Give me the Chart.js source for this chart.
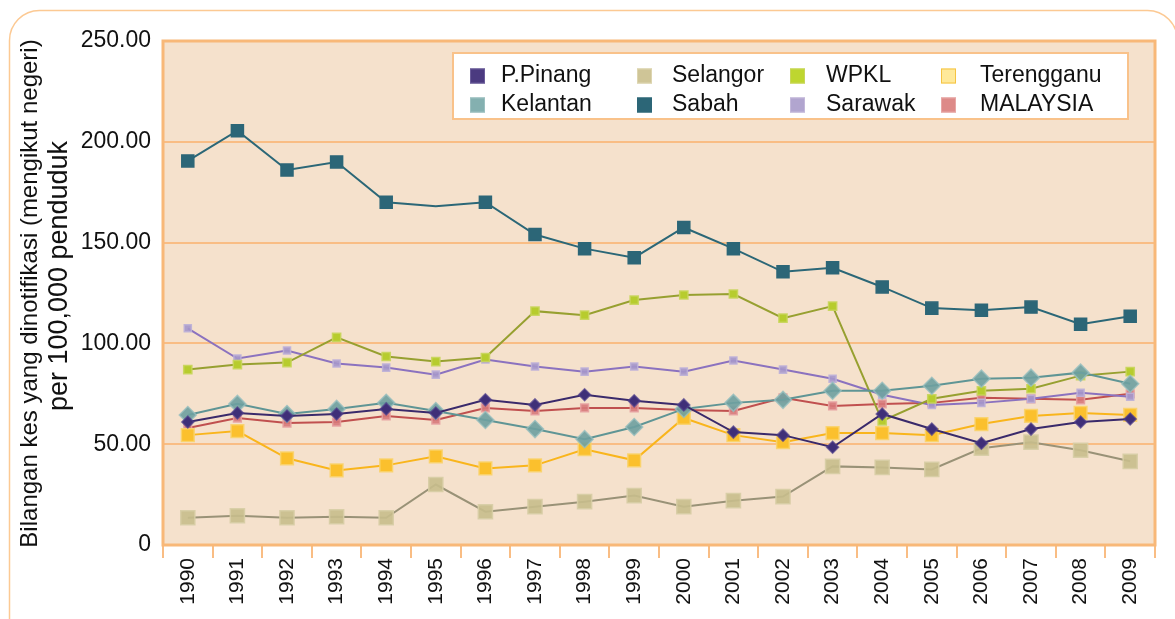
<!DOCTYPE html>
<html lang="ms">
<head>
<meta charset="UTF-8">
<title>Kes dinotifikasi mengikut negeri</title>
<script src="https://cdn.jsdelivr.net/npm/chart.js@4.4.1/dist/chart.umd.min.js"></script>
<style>
    body{margin:0;background:#fff;}
    #board{width:1175px;height:619px;}
</style>
</head>
<body>
<div id="board">
    <canvas id="chart1" width="1175" height="619"></canvas>
</div>

<script>
    const years = ['1990','1991','1992','1993','1994','1995','1996','1997','1998','1999',
                   '2000','2001','2002','2003','2004','2005','2006','2007','2008','2009'];

    const pPinang    = [61, 65.5, 64, 65, 67.5, 65.5, 72, 69.5, 74.5, 71.5, 69.5, 56, 54.5, 48.5, 65, 57.5, 50.5, 57.5, 61, 62.5];
    const kelantan   = [64.5, 70, 65, 67.5, 70.5, 66.5, 62, 57.5, 52.5, 58.5, 67.5, 70.5, 72, 76.5, 76.5, 79, 82.5, 83, 85.5, 80];
    const selangor   = [13.5, 14.5, 13.5, 14, 13.5, 30, 16.5, 19, 21.5, 24.5, 19, 22, 24, 39, 38.5, 37.5, 48, 51, 47, 41.5];
    const sabah      = [190.5, 205.5, 186, 190, 170, 168, 170, 154, 147, 142.5, 157.5, 147, 135.5, 137.5, 128, 117.5, 116.5, 118, 109.5, 113.5];
    const wpkl       = [87, 89.5, 90.5, 103, 93.5, 91, 93, 116, 114, 121.5, 124, 124.5, 112.5, 118.5, 61.5, 72.5, 76.5, 77.5, 84, 86];
    const sarawak    = [107.5, 92.5, 96.5, 90, 88, 84.5, 92, 88.5, 86, 88.5, 86, 91.5, 87, 82.5, 74.5, 69.5, 70.5, 72.5, 75.5, 73.5];
    const terengganu = [54.5, 56.5, 43, 37, 39.5, 44, 38, 39.5, 47.5, 42, 63, 54.5, 51, 55.5, 55.5, 54.5, 60, 64, 65.5, 64.5];
    const malaysia   = [58, 63, 60.5, 61, 64, 62, 68, 66.5, 68, 68, 67, 66.5, 73, 69, 70, 70.5, 73, 72.5, 72, 75];

    const yTicks = [0, 50, 100, 150, 200, 250];
    const yTitle = ['Bilangan kes yang dinotifikasi (mengikut negeri)', 'per 100,000 penduduk'];

    const ORANGE = '#f9bd84';
    const FONT = '"Liberation Sans", Arial, sans-serif';

    function series(label, data, line, fill, edge, style, r, swatch, swatchEdge){
        return {
            label, data,
            borderColor: line, borderWidth: 2,
            pointStyle: style, pointRadius: r, pointHoverRadius: r,
            pointBackgroundColor: fill, pointBorderColor: edge, pointBorderWidth: 1.5,
            fill: false, tension: 0,
            swatch: swatch, swatchEdge: swatchEdge
        };
    }

    // sabah 1995 has no marker in the original
    const sabahR = sabah.map((v, i) => i === 5 ? 0 : 8.5);

    // order: column by column of the legend (top row, bottom row)
    const datasets = [
        series('P.Pinang',   pPinang,    '#3a2a6b', '#3f2f78', 'rgba(80,64,140,0.7)',   'rectRot', 6,   '#4b3a80', '#6b5c9a'),
        series('Kelantan',   kelantan,   '#5f9595', 'rgba(110,160,160,0.9)', 'rgba(150,190,190,0.8)', 'rectRot', 8.5, '#84b0b0', '#9cc0c0'),
        series('Selangor',   selangor,   '#999277', 'rgba(200,190,140,0.9)', 'rgba(215,205,165,0.9)', 'rect', 10, '#cfc597', '#ddd5b0'),
        series('Sabah',      sabah,      '#2b6777', '#2c6677', '#2c6677',               'rect', sabahR, '#2c6677', '#2c6677'),
        series('WPKL',       wpkl,       '#97a030', '#b7cc2e', 'rgba(200,213,90,0.9)',   'rect', 5.8, '#bed62f', '#c8d55a'),
        series('Sarawak',    sarawak,    '#8b72bf', 'rgba(165,151,203,0.9)', 'rgba(189,176,216,0.9)', 'rect', 5, '#b1a5cf', '#c3b8da'),
        series('Terengganu', terengganu, '#f9b51c', '#fbc02d', 'rgba(249,211,107,0.9)',  'rect', 9, '#ffe99a', '#f5c342'),
        series('MALAYSIA',   malaysia,   '#c0504f', 'rgba(215,121,122,0.9)', 'rgba(229,160,160,0.9)', 'rect', 5.5, '#dd8a88', '#e7a7a5')
    ];

    // white card with rounded orange edge + peach plot area
    const backdrop = {
        id: 'backdrop',
        beforeDraw(chart){
            const ctx = chart.ctx, a = chart.chartArea;
            ctx.save();
            ctx.fillStyle = '#fff';
            ctx.fillRect(0, 0, chart.width, chart.height);
            ctx.beginPath();
            ctx.roundRect(9.5, 10.5, 1168, 640, 30);
            ctx.strokeStyle = '#fcc993';
            ctx.lineWidth = 1.5;
            ctx.stroke();
            ctx.fillStyle = '#f5e1cc';
            ctx.fillRect(a.left, a.top, a.right - a.left, a.bottom - a.top);
            ctx.restore();
        },
        beforeDatasetsDraw(chart){
            const ctx = chart.ctx, a = chart.chartArea;
            ctx.save();
            ctx.strokeStyle = '#f8b878';
            ctx.lineWidth = 3;
            ctx.strokeRect(a.left, a.top, a.right - a.left, a.bottom - a.top);
            ctx.restore();
        }
    };

    // legend box: 4 columns x 2 rows
    const gridLegend = {
        id: 'gridLegend',
        afterDraw(chart){
            const ctx = chart.ctx;
            const swX = [470, 637, 790, 941];
            const txX = [501, 672, 826, 980];
            const swY = [76, 105];
            const txY = [81.5, 111];
            ctx.save();
            ctx.fillStyle = '#fff';
            ctx.fillRect(453, 53, 675, 66);
            ctx.strokeStyle = '#f9c28a';
            ctx.lineWidth = 2;
            ctx.strokeRect(453, 53, 675, 66);
            ctx.font = '23px ' + FONT;
            ctx.textBaseline = 'alphabetic';
            ctx.textAlign = 'left';
            chart.data.datasets.forEach((ds, i) => {
                const col = Math.floor(i / 2), row = i % 2;
                ctx.fillStyle = ds.swatch;
                ctx.fillRect(swX[col], swY[row] - 7.5, 15, 15);
                ctx.strokeStyle = ds.swatchEdge;
                ctx.lineWidth = 1;
                ctx.strokeRect(swX[col] + 0.5, swY[row] - 7, 14, 14);
                ctx.fillStyle = '#111';
                ctx.fillText(ds.label, txX[col], txY[row]);
            });
            ctx.restore();
        }
    };

    // two-line rotated y title
    const sideTitle = {
        id: 'sideTitle',
        afterDraw(chart){
            const ctx = chart.ctx;
            const lines = [
                {text: yTitle[0], x: 37, y: 293.5, size: 24},
                {text: yTitle[1], x: 67, y: 276, size: 27}
            ];
            ctx.save();
            ctx.fillStyle = '#111';
            ctx.textAlign = 'center';
            ctx.textBaseline = 'alphabetic';
            lines.forEach(l => {
                ctx.save();
                ctx.translate(l.x, l.y);
                ctx.rotate(-Math.PI / 2);
                ctx.font = l.size + 'px ' + FONT;
                ctx.fillText(l.text, 0, 0);
                ctx.restore();
            });
            ctx.restore();
        }
    };

    const ctx = document.getElementById('chart1').getContext('2d');
    new Chart(ctx, {
        type: 'line',
        data: { labels: years, datasets: datasets },
        options: {
            responsive: false,
            animation: false,
            layout: { padding: { top: 41, right: 20, left: 0, bottom: 0 } },
            plugins: {
                legend: { display: false },
                tooltip: { enabled: false }
            },
            scales: {
                x: {
                    type: 'category',
                    offset: true,
                    afterFit(s){ s.height = 74; },
                    border: { display: false },
                    grid: {
                        offset: true,
                        drawOnChartArea: false,
                        drawTicks: true,
                        tickLength: 13,
                        color: ORANGE,
                        lineWidth: 2
                    },
                    ticks: {
                        autoSkip: false,
                        minRotation: 90,
                        maxRotation: 90,
                        padding: 0,
                        color: '#111',
                        font: { family: FONT, size: 21 }
                    }
                },
                y: {
                    min: 0,
                    max: 250,
                    afterFit(s){ s.width = 163; },
                    afterBuildTicks(s){ s.ticks = yTicks.map(v => ({ value: v })); },
                    border: { display: false },
                    grid: {
                        color: ORANGE,
                        lineWidth: 2,
                        drawTicks: false
                    },
                    ticks: {
                        padding: 12,
                        color: '#111',
                        font: { family: FONT, size: 23 },
                        callback: v => v === 0 ? '0' : v.toFixed(2)
                    }
                }
            }
        },
        plugins: [backdrop, gridLegend, sideTitle]
    });
</script>
</body>
</html>
